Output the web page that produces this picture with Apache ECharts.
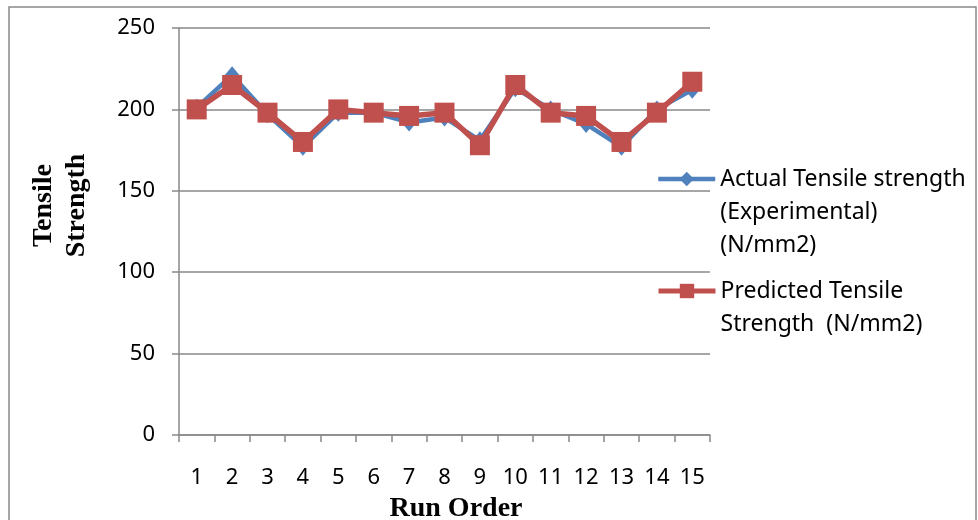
<!DOCTYPE html>
<html>
<head>
<meta charset="utf-8">
<script src="https://cdn.jsdelivr.net/npm/echarts@6/dist/echarts.min.js"></script>
<style>
html,body{margin:0;padding:0;background:#fff;}
#chart{width:978px;height:520px;}
</style>
</head>
<body>
<div id="chart"></div>
<script>
const runOrder = ['1','2','3','4','5','6','7','8','9','10','11','12','13','14','15'];
const actualStrength = [201, 221, 197, 177, 198, 198, 192, 195, 181, 213, 200, 191, 177, 200, 212];
const predictedStrength = [200, 215, 198, 180, 200, 198, 196, 198, 178, 215, 198, 196, 180, 198, 217];
const actualName = 'Actual Tensile strength (Experimental) (N/mm2)';
const predictedName = 'Predicted Tensile Strength  (N/mm2)';
const actualLines = ['Actual Tensile strength', '(Experimental)', '(N/mm2)'];
const predictedLines = ['Predicted Tensile', 'Strength  (N/mm2)'];

const chart = echarts.init(document.getElementById('chart'), null, {renderer: 'canvas'});
const gray = '#898989';
const labelFont = 'Noto Sans';
const LH = 33;
// pad with leading blank lines so the first text line sits level with the legend icon
function legendText(lines) {
  const blanks = new Array(lines.length - 1).fill('');
  return blanks.concat(lines).join('\n');
}
chart.setOption({
  animation: false,
  backgroundColor: '#ffffff',
  graphic: [{
    type: 'rect',
    shape: {x: 9, y: 7, width: 967, height: 530},
    style: {fill: 'none', stroke: gray, lineWidth: 1.5},
    silent: true
  }],
  grid: {left: 179, right: 268, top: 28, bottom: 85, containLabel: false, outerBoundsMode: 'none'},
  legend: [{
    data: [actualName],
    left: 656, top: 179 - 82.5,
    padding: 0,
    orient: 'vertical',
    itemWidth: 57, itemHeight: 18, itemGap: 0,
    lineStyle: {width: 4.5},
    formatter: () => legendText(actualLines),
    textStyle: {fontFamily: labelFont, fontSize: 23, color: '#000', lineHeight: LH},
    selectedMode: false
  }, {
    data: [predictedName],
    left: 656, top: 291 - 49.5,
    padding: 0,
    orient: 'vertical',
    itemWidth: 57, itemHeight: 18, itemGap: 0,
    lineStyle: {width: 5},
    formatter: () => legendText(predictedLines),
    textStyle: {fontFamily: labelFont, fontSize: 23, color: '#000', lineHeight: LH},
    selectedMode: false
  }],
  xAxis: {
    type: 'category',
    data: runOrder,
    boundaryGap: true,
    name: 'Run Order',
    nameLocation: 'middle',
    nameGap: 60,
    nameTextStyle: {fontFamily: 'Liberation Serif', fontWeight: 'bold', fontSize: 28, color: '#000', padding: [0, 0, 0, 23]},
    axisLine: {lineStyle: {color: gray, width: 1.5}},
    axisTick: {show: true, length: 7, lineStyle: {color: gray, width: 1.5}},
    axisLabel: {fontFamily: labelFont, fontSize: 22, color: '#000', margin: 32, interval: 0}
  },
  yAxis: {
    type: 'value',
    min: 0, max: 250, interval: 50,
    name: 'Tensile\nStrength',
    nameLocation: 'middle',
    nameRotate: 90,
    nameGap: 86,
    nameTextStyle: {fontFamily: 'Liberation Serif', fontWeight: 'bold', fontSize: 28, color: '#000', lineHeight: 33, padding: [0, 0, 0, 52]},
    axisLine: {show: true, lineStyle: {color: gray, width: 1.5}},
    axisTick: {show: true, length: 7, lineStyle: {color: gray, width: 1.5}},
    axisLabel: {fontFamily: labelFont, fontSize: 22, color: '#000', margin: 24},
    splitLine: {show: true, lineStyle: {color: gray, width: 1.5}}
  },
  series: [{
    name: actualName,
    type: 'line',
    data: actualStrength,
    symbol: 'diamond',
    symbolSize: [15, 18],
    lineStyle: {color: '#4F81BD', width: 4.5},
    itemStyle: {color: '#4F81BD'},
    z: 2
  }, {
    name: predictedName,
    type: 'line',
    data: predictedStrength,
    symbol: 'rect',
    symbolSize: 20,
    lineStyle: {color: '#C0504D', width: 5.5},
    itemStyle: {color: '#C0504D'},
    z: 3
  }]
});
</script>
</body>
</html>
